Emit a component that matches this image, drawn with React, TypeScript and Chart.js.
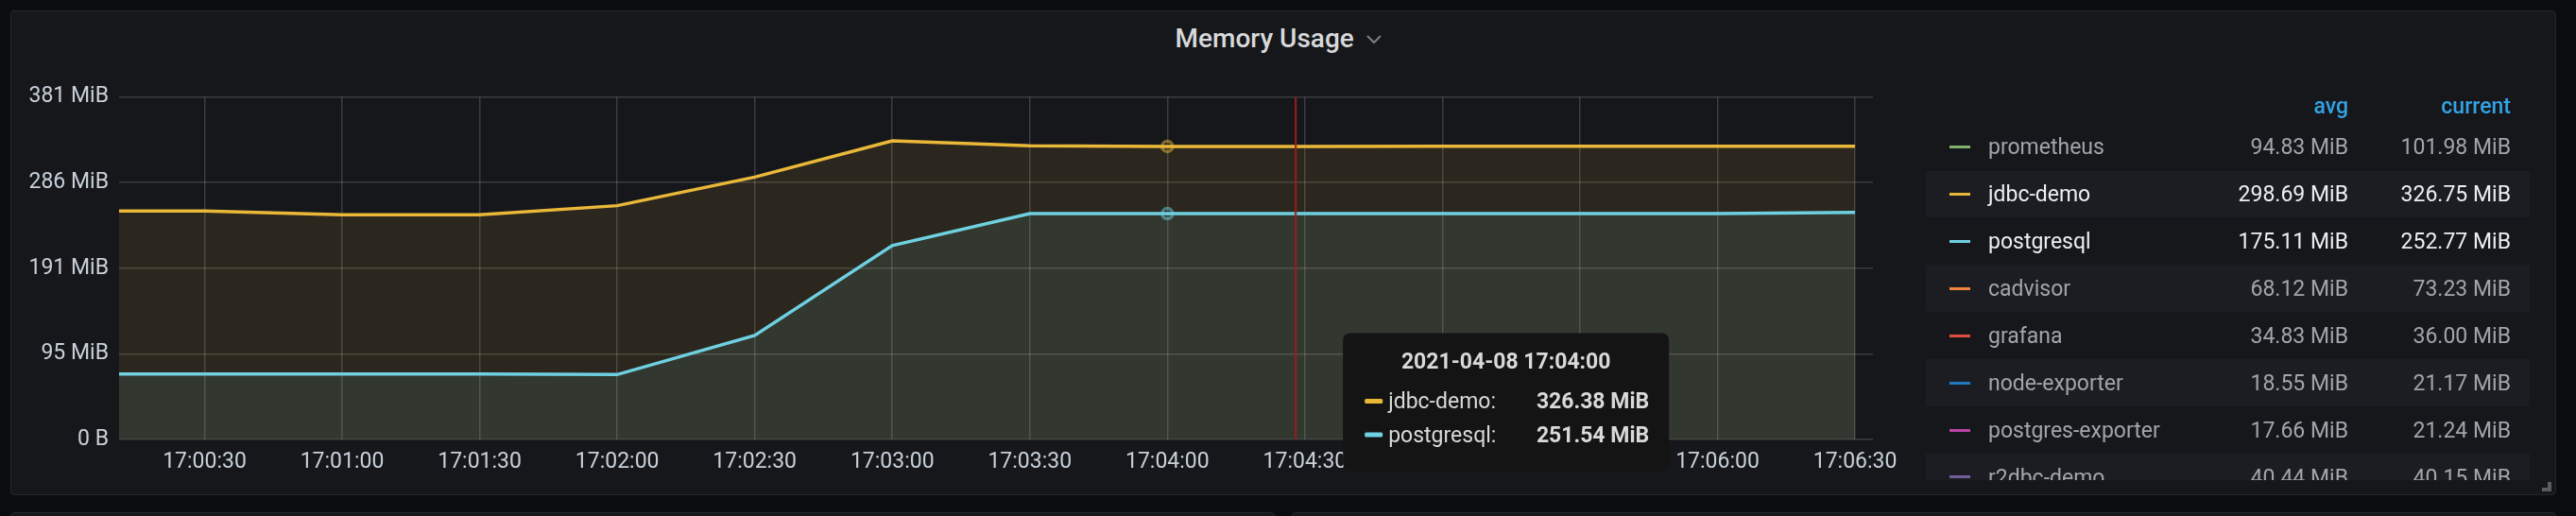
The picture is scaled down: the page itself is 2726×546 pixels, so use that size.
import React, { useEffect, useRef } from "react";
import { Chart, registerables } from "chart.js";

Chart.register(...registerables);

// ---------- data ----------
const PANEL_TITLE = "Memory Usage";
const DATE_LABEL = "2021-04-08";
// seconds after 17:00:00
const timeSeconds = [0, 30, 60, 90, 120, 150, 180, 210, 240, 270, 300, 330, 360, 390];
const jdbcDemo = [254.6, 254.6, 250.3, 250.3, 260.4, 292.3, 332.6, 327.2, 326.38, 326.5, 326.6, 326.6, 326.7, 326.75];
const postgresql = [72.8, 72.8, 72.8, 72.8, 72.1, 115.7, 215.9, 251.5, 251.54, 251.6, 251.6, 251.6, 251.7, 252.77];
const xTickSeconds = [30, 60, 90, 120, 150, 180, 210, 240, 270, 300, 330, 360, 390];
const yTickMiB = [0, 95.367431640625, 190.73486328125, 286.102294921875, 381.4697265625];
const xMinSeconds = 11.35;
const xMaxSeconds = 393.9;
const hoverIndex = 8;
const crosshairSeconds = 268;

const legendNames = ["prometheus", "jdbc-demo", "postgresql", "cadvisor", "grafana", "node-exporter", "postgres-exporter", "r2dbc-demo"];
const legendColors = ["#7eb26d", "#eab839", "#6ed0e0", "#ef843c", "#e24d42", "#1f78c1", "#ba43a9", "#705da0"];
const legendAvg = ["94.83 MiB", "298.69 MiB", "175.11 MiB", "68.12 MiB", "34.83 MiB", "18.55 MiB", "17.66 MiB", "40.44 MiB"];
const legendCurrent = ["101.98 MiB", "326.75 MiB", "252.77 MiB", "73.23 MiB", "36.00 MiB", "21.17 MiB", "21.24 MiB", "40.15 MiB"];
const legendShown = [false, true, true, false, false, false, false, false];

// ---------- styling ----------
const FONT = 'Roboto, "Helvetica Neue", Arial, sans-serif';
const PAGE_BG = "#0b0c0e";
const PANEL_BG = "#16171b";
const PANEL_BORDER = "#25272b";
const TEXT = "#c7d0d9";
const GRID = "rgba(255,255,255,0.16)";
const YELLOW = "#eab839";
const CYAN = "#6ed0e0";

const CW = 2100;
const CH = 530;
const AREA_LEFT = 126;
const AREA_RIGHT = 1982;
const AREA_TOP = 102.7;
const AREA_BOTTOM = 464.8;

function fmtTime(sec: number): string {
  const m = Math.floor(sec / 60);
  const s = Math.round(sec % 60);
  return "17:" + String(m).padStart(2, "0") + ":" + String(s).padStart(2, "0");
}

function roundRect(ctx: CanvasRenderingContext2D, x: number, y: number, w: number, h: number, r: number) {
  ctx.beginPath();
  ctx.moveTo(x + r, y);
  ctx.lineTo(x + w - r, y);
  ctx.quadraticCurveTo(x + w, y, x + w, y + r);
  ctx.lineTo(x + w, y + h - r);
  ctx.quadraticCurveTo(x + w, y + h, x + w - r, y + h);
  ctx.lineTo(x + r, y + h);
  ctx.quadraticCurveTo(x, y + h, x, y + h - r);
  ctx.lineTo(x, y + r);
  ctx.quadraticCurveTo(x, y, x + r, y);
  ctx.closePath();
}

const crosshairPlugin = {
  id: "crosshair",
  afterDatasetsDraw(chart: any) {
    const { ctx, chartArea, scales } = chart;
    const px = scales.x.getPixelForValue(crosshairSeconds);
    ctx.save();
    ctx.strokeStyle = "#9b1e1a";
    ctx.lineWidth = 2;
    ctx.beginPath();
    ctx.moveTo(px, chartArea.top);
    ctx.lineTo(px, chartArea.bottom);
    ctx.stroke();
    ctx.restore();
  },
};

const tooltipPlugin = {
  id: "fakeTooltip",
  afterDraw(chart: any) {
    const { ctx, scales } = chart;
    const px = scales.x.getPixelForValue(crosshairSeconds);
    const bx = px + 50;
    const by = 352.4;
    const bw = 345;
    const bh = 146;
    ctx.save();
    ctx.fillStyle = "#141414";
    roundRect(ctx, bx, by, bw, bh, 8);
    ctx.fill();
    ctx.fillStyle = "#d8d9da";
    ctx.textBaseline = "middle";
    ctx.textAlign = "center";
    ctx.font = `bold 23px ${FONT}`;
    ctx.fillText(DATE_LABEL + " " + fmtTime(timeSeconds[hoverIndex]), bx + 172.5, by + 31.5);
    const rows = [
      { name: "jdbc-demo:", color: YELLOW, v: jdbcDemo[hoverIndex] },
      { name: "postgresql:", color: CYAN, v: postgresql[hoverIndex] },
    ];
    rows.forEach((r, i) => {
      const cy = by + 73 + i * 35.5;
      ctx.fillStyle = r.color;
      roundRect(ctx, bx + 23, cy - 3.5, 19, 5, 1.5);
      ctx.fill();
      ctx.fillStyle = "#d8d9da";
      ctx.textAlign = "left";
      ctx.font = `23px ${FONT}`;
      ctx.fillText(r.name, bx + 48, cy + 1);
      ctx.textAlign = "right";
      ctx.font = `bold 23px ${FONT}`;
      ctx.fillText(r.v.toFixed(2) + " MiB", bx + 324, cy + 1);
    });
    ctx.restore();
  },
};

function GraphCanvas() {
  const ref = useRef<HTMLCanvasElement | null>(null);
  useEffect(() => {
    if (!ref.current) return;
    const mkPoints = (vals: number[]) => timeSeconds.map((t, i) => ({ x: t, y: vals[i] }));
    const radii = timeSeconds.map((_, i) => (i === hoverIndex ? 5.5 : 0));
    const chart = new Chart(ref.current, {
      type: "line",
      data: {
        datasets: [
          {
            label: "jdbc-demo",
            data: mkPoints(jdbcDemo),
            borderColor: YELLOW,
            backgroundColor: "rgba(234,184,57,0.1)",
            fill: "origin",
            borderWidth: 3.5,
            tension: 0,
            pointRadius: radii,
            pointBorderWidth: 3.5,
            pointBorderColor: "rgba(234,184,57,0.5)",
            pointBackgroundColor: "rgba(0,0,0,0)",
            pointHoverRadius: 0,
          },
          {
            label: "postgresql",
            data: mkPoints(postgresql),
            borderColor: CYAN,
            backgroundColor: "rgba(110,208,224,0.1)",
            fill: "origin",
            borderWidth: 3.5,
            tension: 0,
            pointRadius: radii,
            pointBorderWidth: 3.5,
            pointBorderColor: "rgba(110,208,224,0.5)",
            pointBackgroundColor: "rgba(0,0,0,0)",
            pointHoverRadius: 0,
          },
        ],
      },
      options: {
        animation: false,
        responsive: false,
        maintainAspectRatio: false,
        events: [],
        layout: { padding: { left: 0, top: AREA_TOP, right: CW - AREA_RIGHT, bottom: 0 } },
        scales: {
          x: {
            type: "linear",
            min: xMinSeconds,
            max: xMaxSeconds,
            afterBuildTicks: (s: any) => {
              s.ticks = xTickSeconds.map((v) => ({ value: v }));
            },
            afterFit: (s: any) => {
              s.height = CH - AREA_BOTTOM;
            },
            ticks: {
              callback: (v: any) => fmtTime(Number(v)),
              color: TEXT,
              font: { family: FONT, size: 23 },
              padding: 10.5,
              maxRotation: 0,
              autoSkip: false,
            },
            grid: { color: GRID, lineWidth: 1.5, drawTicks: false },
            border: { display: false },
          },
          y: {
            min: 0,
            max: yTickMiB[yTickMiB.length - 1],
            afterBuildTicks: (s: any) => {
              s.ticks = yTickMiB.map((v) => ({ value: v }));
            },
            afterFit: (s: any) => {
              s.width = AREA_LEFT;
            },
            ticks: {
              callback: (v: any) => (Number(v) === 0 ? "0 B" : Math.round(Number(v)) + " MiB"),
              color: TEXT,
              font: { family: FONT, size: 23 },
              padding: 11,
            },
            grid: { color: GRID, lineWidth: 1.5, drawTicks: false },
            border: { display: false },
          },
        },
        plugins: {
          legend: { display: false },
          tooltip: { enabled: false },
          filler: { drawTime: "beforeDatasetsDraw" },
        } as any,
      },
      plugins: [crosshairPlugin, tooltipPlugin],
    } as any);
    return () => chart.destroy();
  }, []);
  return (
    <canvas
      ref={ref}
      width={CW}
      height={CH}
      style={{ position: "absolute", left: 0, top: 0, width: CW, height: CH }}
    />
  );
}

function Legend() {
  const L = 2038;
  const T = 90;
  const W = 639;
  const H = 417.7;
  const rowCenter = (i: number) => 155.6 + 49.9 * i - T;
  return (
    <div
      style={{
        position: "absolute",
        left: L,
        top: T,
        width: W,
        height: H,
        overflow: "hidden",
        fontFamily: FONT,
        fontSize: 23,
        lineHeight: "23px",
      }}
    >
      <span style={{ position: "absolute", right: W - 447, top: 112 - T - 11.2, color: "#33a2e5", fontWeight: 500 }}>avg</span>
      <span style={{ position: "absolute", right: W - 619, top: 112 - T - 11.2, color: "#33a2e5", fontWeight: 500 }}>current</span>
      {legendNames.map((name, i) => {
        const c = rowCenter(i);
        const col = legendShown[i] ? "#eceef1" : "#a1a5ab";
        return (
          <React.Fragment key={name}>
            {i % 2 === 1 && (
              <div style={{ position: "absolute", left: 0, top: c - 24.9, width: W, height: 49.8, background: "#1c1d22" }} />
            )}
            <div style={{ position: "absolute", left: 25.4, top: c - 1.5, width: 21.3, height: 3, background: legendColors[i] }} />
            <span style={{ position: "absolute", left: 66, top: c - 11.2, color: col, whiteSpace: "nowrap" }}>{name}</span>
            <span style={{ position: "absolute", right: W - 447, top: c - 11.2, color: col, whiteSpace: "nowrap" }}>{legendAvg[i]}</span>
            <span style={{ position: "absolute", right: W - 619, top: c - 11.2, color: col, whiteSpace: "nowrap" }}>{legendCurrent[i]}</span>
          </React.Fragment>
        );
      })}
    </div>
  );
}

export default function App() {
  return (
    <div style={{ position: "fixed", left: 0, top: 0, width: 2726, height: 546, background: PAGE_BG, overflow: "hidden" }}>
      {/* main panel */}
      <div
        style={{
          position: "absolute",
          left: 11,
          top: 11,
          width: 2694,
          height: 513,
          boxSizing: "border-box",
          background: PANEL_BG,
          border: `1px solid ${PANEL_BORDER}`,
          borderRadius: 4,
        }}
      />
      {/* panels below (edges) */}
      <div style={{ position: "absolute", left: 11, top: 542, width: 1338, height: 20, boxSizing: "border-box", background: PANEL_BG, border: `1px solid ${PANEL_BORDER}`, borderRadius: 4 }} />
      <div style={{ position: "absolute", left: 1367, top: 542, width: 1338, height: 20, boxSizing: "border-box", background: PANEL_BG, border: `1px solid ${PANEL_BORDER}`, borderRadius: 4 }} />
      {/* title */}
      <span
        style={{
          position: "absolute",
          left: 1243.5,
          top: 27.3,
          fontFamily: FONT,
          fontSize: 28,
          lineHeight: "28px",
          fontWeight: 500,
          color: "#d8d9da",
          whiteSpace: "nowrap",
        }}
      >
        {PANEL_TITLE}
      </span>
      <svg style={{ position: "absolute", left: 1444, top: 34 }} width={20} height={14}>
        <polyline points="3,4 10,11 17,4" fill="none" stroke="#7b7f86" strokeWidth={2} />
      </svg>
      <GraphCanvas />
      <Legend />
      {/* resize handle */}
      <div
        style={{
          position: "absolute",
          left: 2690,
          top: 510,
          width: 6,
          height: 6,
          borderRight: "4px solid #5a5c60",
          borderBottom: "4px solid #5a5c60",
        }}
      />
    </div>
  );
}
